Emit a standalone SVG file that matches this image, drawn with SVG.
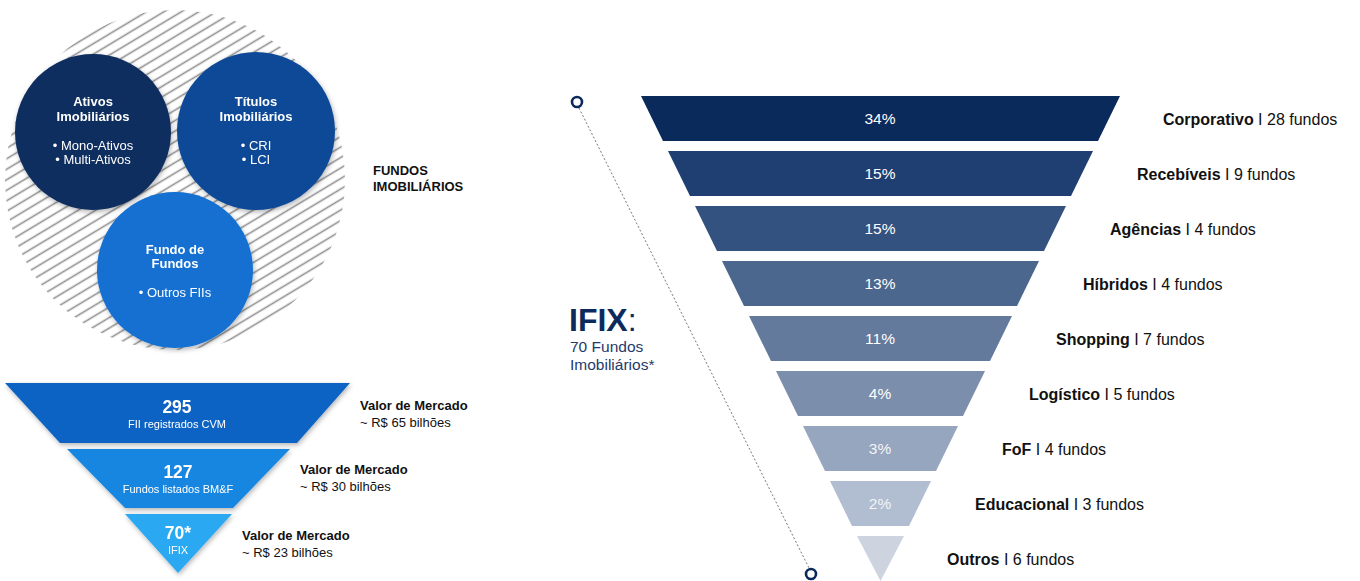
<svg xmlns="http://www.w3.org/2000/svg" width="1360" height="581" viewBox="0 0 1360 581">
<defs>
<pattern id="hatch" width="10" height="9" patternUnits="userSpaceOnUse" patternTransform="rotate(-31)">
<line x1="0" y1="4.5" x2="10" y2="4.5" stroke="#8f8f8f" stroke-width="1.6"/>
</pattern>
<filter id="sh" x="-20%" y="-20%" width="140%" height="140%">
<feDropShadow dx="1" dy="2" stdDeviation="2.5" flood-color="#000" flood-opacity="0.3"/>
</filter>
</defs>
<style>
text{font-family:"Liberation Sans",Arial,sans-serif}
.cw{fill:#fff;text-anchor:middle;font-size:13px}
.cb{font-weight:bold}
.pct{fill:#fff;text-anchor:middle;font-size:15.5px}
.lbl{fill:#111;font-size:16px}
.lb{font-weight:bold}
.vm{fill:#111;font-size:13px}
.ring{fill:none;stroke:#0b2a5c;stroke-width:2.6}
</style>
<rect width="1360" height="581" fill="#fff"/>

<g id="hatched-bg">
<circle cx="175" cy="180" r="170" fill="url(#hatch)"/>
</g>
<g id="ativos" filter="url(#sh)">
<circle cx="93" cy="132" r="78" fill="#0e2d5e"/>
<text class="cw cb" x="93" y="106">Ativos</text>
<text class="cw cb" x="93" y="121">Imobiliários</text>
<text class="cw" x="93" y="150">• Mono-Ativos</text>
<text class="cw" x="93" y="164">• Multi-Ativos</text>
</g>
<g id="titulos" filter="url(#sh)">
<circle cx="256" cy="131" r="79" fill="#0c4a97"/>
<text class="cw cb" x="256" y="106">Títulos</text>
<text class="cw cb" x="256" y="121">Imobiliários</text>
<text class="cw" x="256" y="150">• CRI</text>
<text class="cw" x="256" y="164">• LCI</text>
</g>
<g id="fundo" filter="url(#sh)">
<circle cx="175" cy="270" r="78" fill="#136fd2"/>
<text class="cw cb" x="175" y="254">Fundo de</text>
<text class="cw cb" x="175" y="268">Fundos</text>
<text class="cw" x="175" y="297">• Outros FIIs</text>
</g>
<g id="fundos-label">
<text x="373" y="175" font-size="13" font-weight="bold" fill="#111">FUNDOS</text>
<text x="373" y="191" font-size="13" font-weight="bold" fill="#111">IMOBILIÁRIOS</text>
</g>

<g id="f1" filter="url(#sh)">
<polygon points="5,383 350,383 297,443 60,443" fill="#0e63c4"/>
<text x="177" y="413" fill="#fff" text-anchor="middle" font-size="17.5" font-weight="bold">295</text>
<text x="177" y="428" fill="#fff" text-anchor="middle" font-size="11">FII registrados CVM</text>
</g>
<g id="f2" filter="url(#sh)">
<polygon points="67,449 290,449 233,508 125,508" fill="#1886e0"/>
<text x="178" y="478" fill="#fff" text-anchor="middle" font-size="17.5" font-weight="bold">127</text>
<text x="178" y="493" fill="#fff" text-anchor="middle" font-size="11">Fundos listados BM&amp;F</text>
</g>
<g id="f3" filter="url(#sh)">
<polygon points="125,514 232,514 178,573" fill="#2aa8f2"/>
<text x="178" y="539" fill="#fff" text-anchor="middle" font-size="17.5" font-weight="bold">70*</text>
<text x="178" y="554" fill="#fff" text-anchor="middle" font-size="11">IFIX</text>
</g>
<g id="vm-labels">
<text class="vm" x="360" y="410" font-weight="bold">Valor de Mercado</text>
<text class="vm" x="360" y="427">~ R$ 65 bilhões</text>
<text class="vm" x="300" y="474" font-weight="bold">Valor de Mercado</text>
<text class="vm" x="300" y="491">~ R$ 30 bilhões</text>
<text class="vm" x="242" y="540" font-weight="bold">Valor de Mercado</text>
<text class="vm" x="242" y="557">~ R$ 23 bilhões</text>
</g>

<g id="connectors">
<line x1="579" y1="108" x2="809" y2="568" stroke="#777" stroke-width="1" stroke-dasharray="2,2"/>
<circle class="ring" cx="577" cy="102" r="5"/>
<circle class="ring" cx="811" cy="574" r="5"/>
</g>

<g id="ifix-title">
<text x="569" y="331" font-size="32" font-weight="bold" fill="#0d2a5c">IFIX<tspan font-weight="normal">:</tspan></text>
<text x="570" y="352" font-size="15.5" fill="#1f3a6a">70 Fundos</text>
<text x="570" y="370" font-size="15.5" fill="#1f3a6a">Imobiliários*</text>
</g>

<g id="bar0"><polygon points="641,96 1120,96 1098,141 663,141" fill="#0b2a5c"/><text class="pct" x="880" y="124">34%</text></g>
<g id="bar1"><polygon points="668,151 1093,151 1071,196 690,196" fill="#1f3f72"/><text class="pct" x="880" y="179">15%</text></g>
<g id="bar2"><polygon points="695,206 1066,206 1044,251 717,251" fill="#34527f"/><text class="pct" x="880" y="234">15%</text></g>
<g id="bar3"><polygon points="722,261 1039,261 1017,306 744,306" fill="#4b678e"/><text class="pct" x="880" y="289">13%</text></g>
<g id="bar4"><polygon points="749,316 1012,316 990,361 771,361" fill="#637a9d"/><text class="pct" x="880" y="344">11%</text></g>
<g id="bar5"><polygon points="776,371 985,371 963,416 798,416" fill="#7b8eab"/><text class="pct" x="880" y="399">4%</text></g>
<g id="bar6"><polygon points="803,426 958,426 936,471 825,471" fill="#97a6bf"/><text class="pct" x="880" y="454" fill-opacity="0.9">3%</text></g>
<g id="bar7"><polygon points="830,481 931,481 909,526 852,526" fill="#b1bdd0"/><text class="pct" x="880" y="509" fill-opacity="0.85">2%</text></g>
<g id="bar8"><polygon points="857,536 904,536 880.5,581" fill="#cdd4e0"/></g>

<g id="labels">
<text class="lbl" x="1163" y="125"><tspan class="lb">Corporativo</tspan> I 28 fundos</text>
<text class="lbl" x="1137" y="180"><tspan class="lb">Recebíveis</tspan> I 9 fundos</text>
<text class="lbl" x="1110" y="235"><tspan class="lb">Agências</tspan> I 4 fundos</text>
<text class="lbl" x="1083" y="290"><tspan class="lb">Híbridos</tspan> I 4 fundos</text>
<text class="lbl" x="1056" y="345"><tspan class="lb">Shopping</tspan> I 7 fundos</text>
<text class="lbl" x="1029" y="400"><tspan class="lb">Logístico</tspan> I 5 fundos</text>
<text class="lbl" x="1002" y="455"><tspan class="lb">FoF</tspan> I 4 fundos</text>
<text class="lbl" x="975" y="510"><tspan class="lb">Educacional</tspan> I 3 fundos</text>
<text class="lbl" x="947" y="565"><tspan class="lb">Outros</tspan> I 6 fundos</text>
</g>
</svg>
